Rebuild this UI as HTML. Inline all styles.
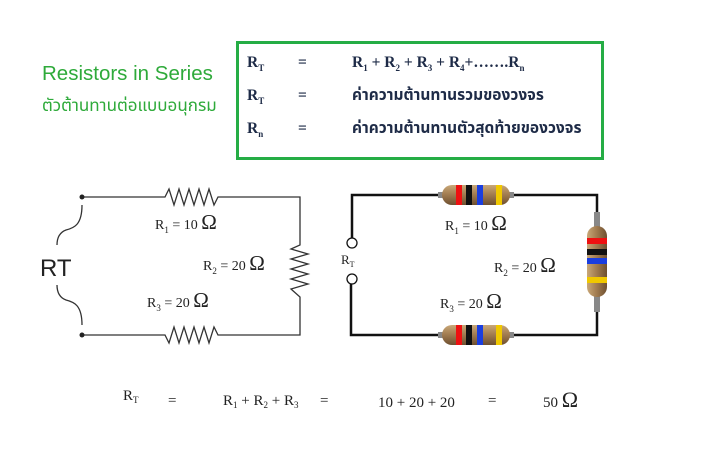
<!DOCTYPE html>
<html><head><meta charset="utf-8"><style>
html,body{margin:0;padding:0;background:#fff;}
svg{display:block;}
.s{font-family:"Liberation Serif",serif;}
.th{font-family:"Liberation Serif","Noto Sans Thai","Norasi","Garuda","Loma","DejaVu Sans",serif;}
</style></head><body>
<svg width="707" height="450" viewBox="0 0 707 450" xmlns="http://www.w3.org/2000/svg">
<rect width="707" height="450" fill="#fff"/>
<text x="42" y="80" font-family="Liberation Sans,sans-serif" font-size="20.5" fill="#2eaa3a">Resistors in Series</text>
<text x="42" y="111" class="th" font-size="17" fill="#2eaa3a">ตัวต้านทานต่อแบบอนุกรม</text>
<rect x="237.5" y="42.5" width="365" height="116" fill="none" stroke="#25ad45" stroke-width="3"/>
<g class="s" font-weight="bold" fill="#1e2b47" font-size="15.5">
<text x="247" y="67">R<tspan font-size="9" dy="4">T</tspan></text>
<text x="298" y="67">=</text>
<text x="352" y="67">R<tspan font-size="9" dy="4">1</tspan><tspan dy="-4"> + R</tspan><tspan font-size="9" dy="4">2</tspan><tspan dy="-4"> + R</tspan><tspan font-size="9" dy="4">3</tspan><tspan dy="-4"> + R</tspan><tspan font-size="9" dy="4">4</tspan><tspan dy="-4">+…….R</tspan><tspan font-size="9" dy="4">n</tspan></text>
<text x="247" y="100">R<tspan font-size="9" dy="4">T</tspan></text>
<text x="298" y="100">=</text>
<text x="247" y="133">R<tspan font-size="9" dy="4">n</tspan></text>
<text x="298" y="133">=</text>
</g>
<g class="th" fill="#1e2b47" font-size="15.5" font-weight="bold">
<text x="352" y="100">ค่าความต้านทานรวมของวงจร</text>
<text x="352" y="133">ค่าความต้านทานตัวสุดท้ายของวงจร</text>
</g>
<!-- left circuit -->
<g fill="none" stroke="#333" stroke-width="1.3">
<path d="M82 197 H165 L169 189 L174 205 L179 189 L184 205 L189 189 L194 205 L199 189 L204 205 L209 189 L214 205 L218 197 H300 V245 L291 249 L308 254 L291 259 L308 264 L291 269 L308 274 L291 279 L308 284 L291 289 L300 297 V335 H218 L214 327 L209 343 L204 327 L199 343 L194 327 L189 343 L184 327 L179 343 L174 327 L169 343 L165 335 H82"/>
<path d="M82 205 C82 225 74 228 66 230 C58 233 57 240 57 245"/>
<path d="M82 325 C82 305 74 302 66 300 C58 297 57 290 57 285"/>
</g>
<circle cx="82" cy="197" r="2.5" fill="#222"/>
<circle cx="82" cy="335" r="2.5" fill="#222"/>
<text x="40" y="276" font-family="Liberation Sans,sans-serif" font-size="24" fill="#222">RT</text>
<g class="s" fill="#222" font-size="14">
<text x="155" y="229">R<tspan font-size="9" dy="4">1</tspan><tspan dy="-4"> = 10 </tspan><tspan font-size="21">Ω</tspan></text>
<text x="203" y="270">R<tspan font-size="9" dy="4">2</tspan><tspan dy="-4"> = 20 </tspan><tspan font-size="21">Ω</tspan></text>
<text x="147" y="307">R<tspan font-size="9" dy="4">3</tspan><tspan dy="-4"> = 20 </tspan><tspan font-size="21">Ω</tspan></text>
</g>
<!-- right circuit -->
<g fill="none" stroke="#111" stroke-width="2.5">
<path d="M352 238 V195 H597 V335 H351 V284"/>
</g>
<circle cx="352" cy="243" r="5" fill="#fff" stroke="#111" stroke-width="1.3"/>
<circle cx="352" cy="279" r="5" fill="#fff" stroke="#111" stroke-width="1.3"/>
<text x="341" y="264" class="s" font-size="13" fill="#222">R<tspan font-size="8" dy="3">T</tspan></text>
<defs>
<linearGradient id="hb" x1="0" y1="0" x2="0" y2="1"><stop offset="0" stop-color="#c9a878"/><stop offset="0.45" stop-color="#a47e52"/><stop offset="1" stop-color="#6e5030"/></linearGradient>
<linearGradient id="vb" x1="0" y1="0" x2="1" y2="0"><stop offset="0" stop-color="#c9a878"/><stop offset="0.45" stop-color="#a47e52"/><stop offset="1" stop-color="#6e5030"/></linearGradient>
<g id="hr">
<rect x="-38" y="-3" width="76" height="6" fill="#888"/>
<rect x="-34" y="-10" width="68" height="20" rx="10" fill="url(#hb)"/>
<rect x="-20" y="-10" width="6" height="20" fill="#e11"/>
<rect x="-10" y="-10" width="6" height="20" fill="#111"/>
<rect x="1" y="-10" width="6" height="20" fill="#1a3ee0"/>
<rect x="20" y="-10" width="6" height="20" fill="#f0c800"/>
</g>
</defs>
<use href="#hr" x="476" y="195"/>
<use href="#hr" x="476" y="335"/>
<rect x="594" y="212" width="6" height="100" fill="#888"/>
<rect x="587" y="226" width="20" height="71" rx="10" fill="url(#vb)"/>
<rect x="587" y="238" width="20" height="6" fill="#e11"/>
<rect x="587" y="249" width="20" height="6" fill="#111"/>
<rect x="587" y="258" width="20" height="6" fill="#1a3ee0"/>
<rect x="587" y="277" width="20" height="6" fill="#f0c800"/>
<g class="s" fill="#222" font-size="14">
<text x="445" y="230">R<tspan font-size="9" dy="4">1</tspan><tspan dy="-4"> = 10 </tspan><tspan font-size="21">Ω</tspan></text>
<text x="494" y="272">R<tspan font-size="9" dy="4">2</tspan><tspan dy="-4"> = 20 </tspan><tspan font-size="21">Ω</tspan></text>
<text x="440" y="308">R<tspan font-size="9" dy="4">3</tspan><tspan dy="-4"> = 20 </tspan><tspan font-size="21">Ω</tspan></text>
</g>
<!-- bottom equation -->
<g class="s" fill="#222" font-size="15">
<text x="123" y="400">R<tspan font-size="9" dy="3">T</tspan></text>
<text x="168" y="405">=</text>
<text x="223" y="405">R<tspan font-size="9" dy="3">1</tspan><tspan dy="-3"> + R</tspan><tspan font-size="9" dy="3">2</tspan><tspan dy="-3"> + R</tspan><tspan font-size="9" dy="3">3</tspan></text>
<text x="320" y="405">=</text>
<text x="378" y="407">10 + 20 + 20</text>
<text x="488" y="405">=</text>
<text x="543" y="407">50 <tspan font-size="22">Ω</tspan></text>
</g>
</svg>
</body></html>
